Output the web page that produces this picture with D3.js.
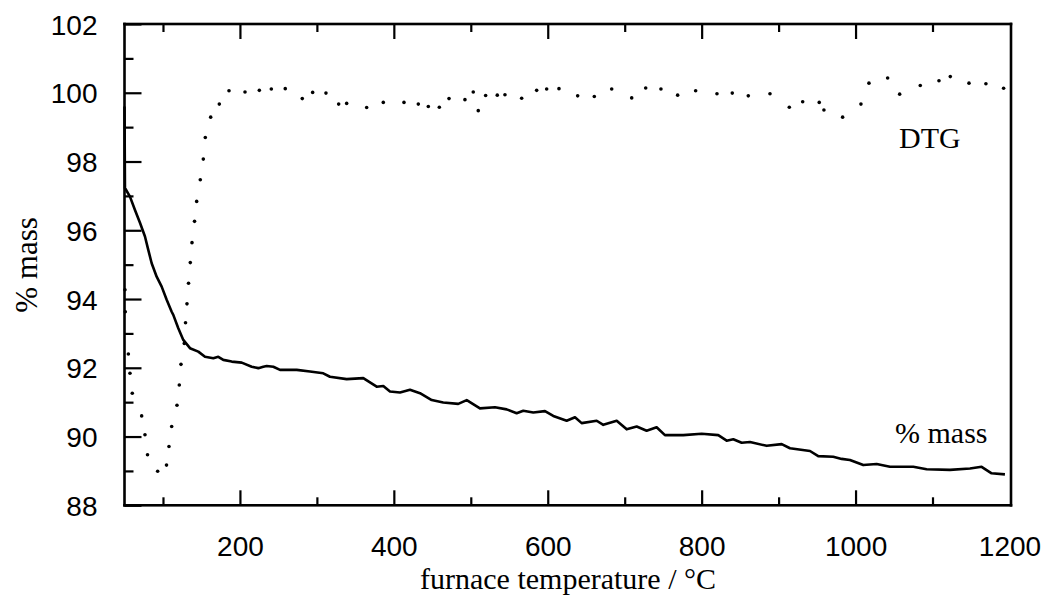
<!DOCTYPE html>
<html><head><meta charset="utf-8">
<script src="https://cdn.jsdelivr.net/npm/d3@7"></script>
<style>
body{margin:0;background:#fff;}
svg{display:block;}
</style></head>
<body>
<svg id="chart" width="1046" height="597"></svg>
<script>
// % mass curve: [temperature °C, % mass]
const massTemp = [50,50.6,57.1,63.6,70.1,76.6,80.9,85.3,91.8,98.3,104.8,111.3,113.4,119.9,126.4,135.1,145.9,154.6,165.4,171.9,178.4,189.3,202.3,215.3,223.9,230.4,234.8,243.4,252.1,273.8,291.0,308.3,317.0,338.7,360.3,377.7,386.3,395.0,408.0,421.0,434.0,449.2,464.2,483.7,494.7,511.9,531.4,546.6,559.6,568.2,581.2,596.4,607.2,624.6,635.4,644.1,663.6,672.2,689.6,702.6,715.6,728.5,741.5,752.3,776.1,800.0,821.6,832.5,841.1,852.0,862.8,884.5,904.0,914.8,940.8,951.5,971.0,981.9,992.7,1010.0,1027.4,1044.7,1075.0,1092.4,1122.7,1148.7,1163.8,1176.8,1194.1];
const massValue = [99.6,97.23,96.98,96.59,96.22,95.82,95.43,95.04,94.65,94.36,93.98,93.63,93.54,93.15,92.81,92.57,92.47,92.32,92.28,92.32,92.23,92.18,92.15,92.03,91.99,92.03,92.05,92.03,91.94,91.94,91.89,91.84,91.74,91.67,91.70,91.45,91.47,91.31,91.28,91.36,91.26,91.06,90.99,90.95,91.06,90.82,90.85,90.79,90.68,90.75,90.70,90.74,90.60,90.46,90.56,90.39,90.46,90.34,90.46,90.21,90.29,90.17,90.27,90.04,90.04,90.08,90.04,89.88,89.92,89.82,89.84,89.73,89.78,89.66,89.58,89.43,89.41,89.35,89.32,89.17,89.20,89.12,89.12,89.05,89.03,89.07,89.12,88.93,88.90];

// DTG trace (dotted), plotted on the same nominal scale
const dtgTemp = [50.6,51,55.0,57.1,60.1,72.3,76.6,79.9,93.1,104.6,107.8,111.3,118.2,121.2,123.4,127.7,129.3,131.2,133.2,135.5,137.7,141.0,143.8,148.5,152.4,155.0,162.0,173.2,185.8,206.6,225.2,240.8,258.9,281.0,294.5,311.8,328.3,338.7,364.7,386.3,413.2,431.8,444.8,459.1,471.7,492.4,503.2,509.7,519.3,534.4,544.4,566.1,585.6,598.6,614.6,638.9,660.5,683.1,709.1,727.3,747.1,768.8,792.2,819.9,839.8,860.6,888.8,913.9,931.3,952.8,958.9,983.2,1007.0,1017.4,1041.7,1057.3,1084.1,1108.4,1123.1,1147.4,1169.4,1192.4];
const dtgValue = [94.27,93.63,92.40,91.84,91.26,90.60,90.05,89.47,88.99,89.17,89.71,90.29,90.91,91.50,92.10,92.71,93.31,93.86,94.46,95.06,95.64,96.26,96.84,97.47,98.07,98.70,99.29,99.67,100.06,100.02,100.07,100.11,100.12,99.83,100.01,99.99,99.67,99.69,99.57,99.72,99.72,99.67,99.60,99.58,99.83,99.80,100.02,99.48,99.92,99.93,99.94,99.84,100.07,100.11,100.12,99.91,99.89,100.11,99.85,100.14,100.11,99.93,100.06,99.97,99.99,99.91,99.97,99.58,99.74,99.72,99.50,99.29,99.67,100.28,100.43,99.96,100.21,100.35,100.47,100.28,100.26,100.13];

const xMajorTicks = [200,400,600,800,1000,1200];
const xMinorTicks = [100,300,500,700,900,1100];
const yMajorTicks = [88,90,92,94,96,98,100,102];
const yMinorTicks = [89,91,93,95,97,99,101];

const xLabel = "furnace temperature / °C";
const yLabel = "% mass";
const seriesLabels = ["DTG", "% mass"];

const svg = d3.select("#chart");
const L = 124.5, R = 1011, T = 24, B = 505.3;
const x = d3.scaleLinear().domain([50, 1202]).range([L, R]);
const y = d3.scaleLinear().domain([88, 102]).range([B, T]);

const sans = "'Liberation Sans', Arial, Helvetica, sans-serif";
const serif = "'Liberation Serif', 'Times New Roman', Times, serif";

// frame as four filled bars (2.6px thick)
const fw = 2.6;
const frameBars = [
  [L - fw / 2, T - fw / 2, R - L + fw, fw],
  [L - fw / 2, B - fw / 2, R - L + fw, fw],
  [L - fw / 2, T - fw / 2, fw, B - T + fw],
  [R - fw / 2, T - fw / 2, fw, B - T + fw]
];
svg.append("g").selectAll("rect").data(frameBars).join("rect")
  .attr("x", d => d[0]).attr("y", d => d[1]).attr("width", d => d[2]).attr("height", d => d[3])
  .attr("fill", "#000").attr("stroke", "none");

// ticks (inward), using d3 axes
function tickAxis(gen, transform, values, size) {
  const g = svg.append("g").attr("transform", transform)
    .call(gen.tickValues(values).tickSize(size).tickFormat(""));
  g.select(".domain").remove();
  g.selectAll(".tick line").attr("stroke", "#000").attr("stroke-width", 2.2);
  return g;
}
tickAxis(d3.axisTop(x), `translate(0,${B})`, xMajorTicks.filter(v => v < 1200), 15);
tickAxis(d3.axisTop(x), `translate(0,${B})`, xMinorTicks, 8);
tickAxis(d3.axisBottom(x), `translate(0,${T})`, xMajorTicks.filter(v => v < 1200), 15);
tickAxis(d3.axisBottom(x), `translate(0,${T})`, xMinorTicks, 8);
tickAxis(d3.axisRight(y), `translate(${L},0)`, yMajorTicks, 17);
tickAxis(d3.axisRight(y), `translate(${L},0)`, yMinorTicks, 9);

// tick labels
const xl = svg.append("g").attr("transform", `translate(0,${B})`)
  .call(d3.axisBottom(x).tickValues(xMajorTicks).tickSize(0).tickPadding(0).tickFormat(d3.format("d")));
xl.select(".domain").remove();
xl.selectAll(".tick text").attr("font-family", sans).attr("font-size", 28).attr("fill", "#000")
  .attr("dy", null).attr("y", 51);

const yl = svg.append("g").attr("transform", `translate(${L},0)`)
  .call(d3.axisLeft(y).tickValues(yMajorTicks).tickSize(0).tickPadding(0).tickFormat(d3.format("d")));
yl.select(".domain").remove();
yl.selectAll(".tick text").attr("font-family", sans).attr("font-size", 28).attr("fill", "#000")
  .attr("x", -27).attr("dy", "0.36em");

// axis titles
svg.append("text").attr("x", 568).attr("y", 589).attr("text-anchor", "middle")
  .attr("font-family", serif).attr("font-size", 30).attr("fill", "#000").text(xLabel);
svg.append("text").attr("transform", "translate(37,265) rotate(-90)").attr("text-anchor", "middle")
  .attr("font-family", serif).attr("font-size", 31).attr("fill", "#000").text(yLabel);

// mass curve
const massData = massTemp.map((t, i) => [t, massValue[i]]);
svg.append("path").datum(massData)
  .attr("d", d3.line().x(d => x(d[0])).y(d => y(d[1])))
  .attr("fill", "none").attr("stroke", "#000").attr("stroke-width", 2.6).attr("stroke-linejoin", "round");

// DTG dotted
const dtgData = dtgTemp.map((t, i) => [t, dtgValue[i]]);
svg.append("g").selectAll("circle").data(dtgData).join("circle")
  .attr("cx", d => x(d[0])).attr("cy", d => y(d[1])).attr("r", 1.8).attr("fill", "#000");

// series labels
svg.append("text").attr("x", 899).attr("y", 148).attr("font-family", serif).attr("font-size", 30).attr("fill", "#000").text(seriesLabels[0]);
svg.append("text").attr("x", 895).attr("y", 443).attr("font-family", serif).attr("font-size", 30).attr("fill", "#000").text(seriesLabels[1]);
</script>
</body></html>
